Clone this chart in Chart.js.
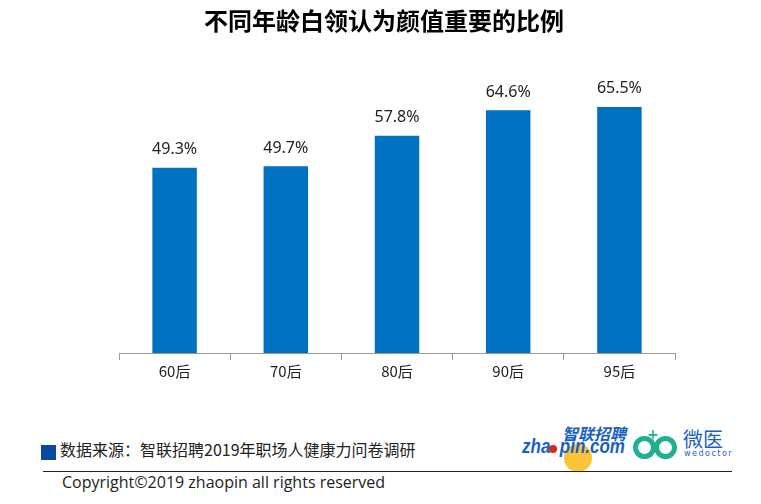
<!DOCTYPE html>
<html>
<head>
<meta charset="utf-8">
<script src="https://cdn.jsdelivr.net/npm/chart.js@4"></script>
<style>
  body { margin: 0; background: #fff; font-family: "Noto Sans CJK SC", "Noto Sans", sans-serif; }
  #wrap { position: relative; width: 761px; height: 504px; overflow: hidden; }
  #chartBox { position: absolute; left: 0; top: 0; width: 761px; height: 400px; }
  .title { position: absolute; left: 0; width: 768px; top: 2px; text-align: center; font-size: 24px; font-weight: bold; color: #000; white-space: nowrap; }
  .src { position: absolute; left: 60px; top: 437px; font-size: 16px; color: #222; white-space: nowrap; }
  .sq { position: absolute; left: 41px; top: 445px; width: 15px; height: 15px; background: #0b4aa2; }
  .rule { position: absolute; left: 43px; top: 471px; width: 689px; height: 1px; background: #222; }
  .copy { position: absolute; left: 62px; top: 471px; font-size: 16px; color: #222; font-family: "Open Sans", "Noto Sans", sans-serif; white-space: nowrap; }
  .dot { position: absolute; left: 564px; top: 444px; width: 28px; height: 28px; border-radius: 50%; background: #f8c53a; }
  .rdot { position: absolute; left: 549px; top: 445px; width: 8px; height: 8px; border-radius: 50%; background: #d9261c; }
  .zpen { position: absolute; left: 522px; top: 435px; font-size: 20px; font-weight: bold; font-style: italic; color: #1a5fc2; font-family: "Liberation Sans", sans-serif; transform: scaleX(0.85); transform-origin: left; white-space: nowrap; }
  .zpcn { position: absolute; left: 562px; top: 421px; font-size: 16px; font-weight: bold; font-style: italic; color: #1a5fc2; white-space: nowrap; }
  .ring { position: absolute; top: 436px; width: 13px; height: 13px; border: 5px solid #1fb08f; border-radius: 50%; }
  .plus { position: absolute; left: 647px; top: 426px; font-size: 14px; font-weight: bold; color: #1fb08f; font-family: "DejaVu Sans", sans-serif; }
  .wycn { position: absolute; left: 683px; top: 424px; font-size: 20px; color: #1a5fc2; white-space: nowrap; }
  .wyen { position: absolute; left: 684px; top: 449px; font-size: 8px; color: #1a5fc2; letter-spacing: 1.5px; font-family: "DejaVu Sans", sans-serif; }
</style>
</head>
<body>
<div id="wrap">
  <div id="chartBox"><canvas id="barChart"></canvas></div>
  <div class="title" id="title"></div>
  <div class="sq"></div>
  <div class="src">数据来源：智联招聘2019年职场人健康力问卷调研</div>
  <div class="dot"></div>
  <div class="zpen">zha&nbsp;&nbsp;pin.com</div>
  <div class="rdot"></div>
  <div class="zpcn">智联招聘</div>
  <div class="ring" style="left:633px"></div>
  <div class="ring" style="left:654px"></div>
  <div class="plus">+</div>
  <div class="wycn">微医</div>
  <div class="wyen">wedoctor</div>
  <div class="rule"></div>
  <div class="copy">Copyright©2019 zhaopin all rights reserved</div>
</div>
<script>
// Chart data
const categories = ["60后", "70后", "80后", "90后", "95后"];
const shareValues = [49.3, 49.7, 57.8, 64.6, 65.5];
const chartTitle = "不同年龄白领认为颜值重要的比例";

document.getElementById("title").textContent = chartTitle;

// Draw value labels above each bar
const valueLabels = {
    id: "valueLabels",
    afterDatasetsDraw(chart) {
        const ctx = chart.ctx;
        const meta = chart.getDatasetMeta(0);
        ctx.save();
        ctx.font = "16px 'Noto Sans', 'Open Sans', sans-serif";
        ctx.fillStyle = "#222";
        ctx.textAlign = "center";
        ctx.textBaseline = "bottom";
        meta.data.forEach((bar, i) => {
            ctx.fillText(shareValues[i].toFixed(1) + "%", bar.x, bar.y - 10);
        });
        ctx.restore();
    }
};

const ctx = document.getElementById("barChart").getContext("2d");
new Chart(ctx, {
    type: "bar",
    data: {
        labels: categories,
        datasets: [{
            data: shareValues,
            backgroundColor: "#0070c0",
            categoryPercentage: 1.0,
            barPercentage: 0.4
        }]
    },
    options: {
        responsive: true,
        maintainAspectRatio: false,
        animation: false,
        layout: { padding: { left: 119, right: 86, top: 90, bottom: 18 } },
        scales: {
            x: {
                grid: { drawOnChartArea: false, drawTicks: true, tickLength: 7, color: "#999" },
                border: { color: "#999" },
                ticks: { color: "#222", font: { size: 15, family: "'Noto Sans CJK SC', sans-serif" }, padding: 2 }
            },
            y: { display: false, min: 0, max: 70 }
        },
        plugins: {
            legend: { display: false },
            tooltip: { enabled: false },
            title: { display: false }
        }
    },
    plugins: [valueLabels]
});
</script>
</body>
</html>
